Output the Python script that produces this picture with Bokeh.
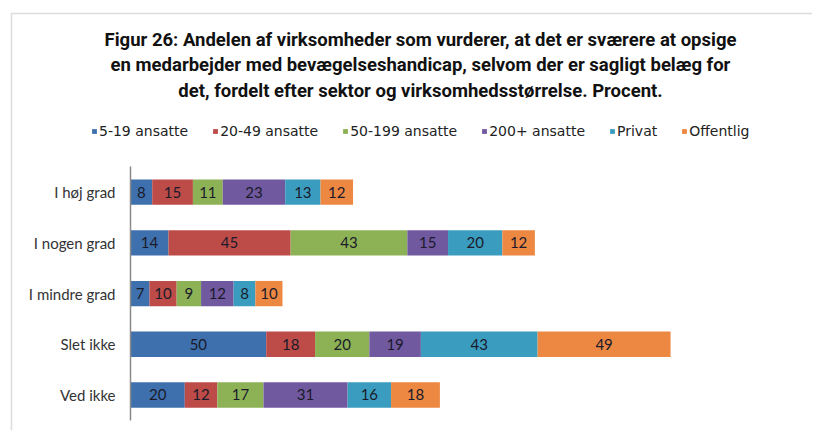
from bokeh.plotting import figure
from bokeh.models import (Range1d, Legend, LegendItem, Label, BoxAnnotation, ColumnDataSource,
                          LinearAxis, FixedTicker)
from bokeh.embed import file_html
from bokeh.resources import INLINE
from bokeh.core.properties import value

categories = ["I høj grad", "I nogen grad", "I mindre grad", "Slet ikke", "Ved ikke"]
series = ["5-19 ansatte", "20-49 ansatte", "50-199 ansatte", "200+ ansatte", "Privat", "Offentlig"]
v_5_19 = [8, 14, 7, 50, 20]
v_20_49 = [15, 45, 10, 18, 12]
v_50_199 = [11, 43, 9, 20, 17]
v_200plus = [23, 15, 12, 19, 31]
v_privat = [13, 20, 8, 43, 16]
v_offentlig = [12, 12, 10, 49, 18]
colors = ["#3F70AE", "#BD4B48", "#8DB255", "#7159A0", "#3A9DBF", "#EC8842"]
title_lines = [
    "Figur 26: Andelen af virksomheder som vurderer, at det er sværere at opsige",
    "en medarbejder med bevægelseshandicap, selvom der er sagligt belæg for",
    "det, fordelt efter sektor og virksomhedsstørrelse. Procent.",
]

values = [v_5_19, v_20_49, v_50_199, v_200plus, v_privat, v_offentlig]
n = len(categories)
ypos = [n - 1 - i for i in range(n)]  # first category on top
data = {"y": ypos}
for name, vals in zip(series, values):
    data[name] = vals
source = ColumnDataSource(data)

W, H = 812, 430
p = figure(width=W, height=H, output_backend="svg", toolbar_location=None,
           x_range=Range1d(-47.90, 251.29), y_range=Range1d(-0.7002, 7.781),
           min_border=0, min_border_left=0, min_border_right=0,
           min_border_top=0, min_border_bottom=0)
p.outline_line_color = None
p.background_fill_color = "white"
p.border_fill_color = "white"
p.xgrid.visible = False
p.ygrid.visible = False
p.xaxis.visible = False
p.yaxis.visible = False

renderers = p.hbar_stack(series, y="y", height=0.5, color=colors, source=source, line_color=None)

# segment labels
left = [0] * n
for name, vals in zip(series, values):
    mids = [l + v / 2 for l, v in zip(left, vals)]
    p.text(x=mids, y=ypos, text=[str(v) for v in vals], text_align="center",
           text_baseline="middle", text_font=value("Lato"), text_font_size="15px",
           text_color="#1a1a2a")
    left = [l + v for l, v in zip(left, vals)]

yax = LinearAxis(fixed_location=0, ticker=FixedTicker(ticks=ypos),
                 major_label_overrides={y: c for y, c in zip(ypos, categories)},
                 bounds=(-0.5, n - 0.5))
yax.axis_line_color = "#8a8a8a"
yax.axis_line_width = 1.5
yax.major_tick_line_color = None
yax.minor_tick_line_color = None
yax.major_tick_out = 0
yax.major_tick_in = 0
yax.major_label_text_font = "Lato"
yax.major_label_text_font_size = "15px"
yax.major_label_text_color = "#333333"
yax.major_label_standoff = 15
p.add_layout(yax, "left")

legend = Legend(items=[LegendItem(label=s, renderers=[r]) for s, r in zip(series, renderers)],
                orientation="horizontal", location=(91, 291),
                glyph_width=6, glyph_height=6, label_standoff=2, spacing=24,
                padding=0, margin=0, border_line_color=None, background_fill_alpha=0,
                label_text_font="DejaVu Sans", label_text_font_size="14px",
                label_text_color="#222222", label_height=16)
p.add_layout(legend, "center")

ys = [391, 366, 340]
for line, yy in zip(title_lines, ys):
    p.add_layout(Label(x=420, y=yy, x_units="screen", y_units="screen", text=line,
                       text_align="center", text_baseline="middle",
                       text_font="Roboto", text_font_style="bold", text_font_size="18.5px",
                       text_color="#111111"))

p.add_layout(BoxAnnotation(left=11, right=3000, top=417, bottom=-500,
                           left_units="screen", right_units="screen",
                           top_units="screen", bottom_units="screen",
                           fill_alpha=0, line_color="#8c8c8c", line_width=1.5))

open("out.html", "w").write(file_html(p, INLINE))
